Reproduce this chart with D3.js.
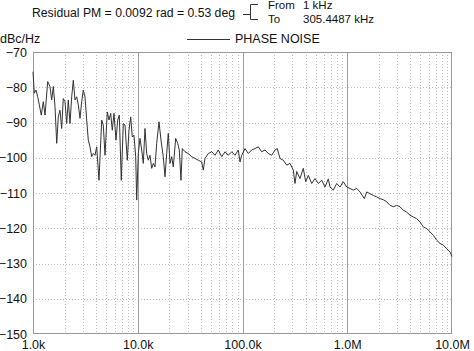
<!DOCTYPE html>
<html><head><meta charset="utf-8">
<script src="https://cdn.jsdelivr.net/npm/d3@7/dist/d3.min.js"></script>
<style>
html,body{margin:0;padding:0;background:#fff;overflow:hidden}
text{font-family:"Liberation Sans",Arial,sans-serif;fill:#111}
</style></head>
<body>
<svg id="c" width="474" height="351"></svg>
<script>
// ---- data ----
const freqHz = [1000,1029,1068,1109,1149,1200,1254,1302,1382,1453,1508,1563,1622,1684,1744,1810,1879,1946,2021,2097,
2173,2255,2341,2425,2517,2613,2707,2810,2916,3021,3136,3255,3371,3500,3633,3763,3907,4056,4266,4527,
4689,4868,5120,5315,5517,5714,5932,6199,6435,6665,6965,7278,7555,7948,8250,8564,8870,9208,9560,9772,
10120,10507,10907,11297,11727,12173,12609,13088,13587,14073,14609,15165,15952,16668,17532,18199,18892,19568,20312,21085,
21839,23022,24056,24918,25866,26616,28256,30379,32740,35200,37850,40780,42240,43850,47160,50820,54630,58740,63310,68080,
73180,78860,84810,91190,94650,98260,105600,113600,122400,131600,141600,152500,164000,176300,190000,204300,214900,228000,245200,264200,
284100,305500,317100,329200,353900,380600,401200,424800,457700,492200,529300,570400,613300,659400,684500,736100,793100,852700,916900,988000,
1062300,1142300,1230900,1323600,1455100,1533900,1649000,1773400,1910600,2054400,2208800,2380000,2559100,2752100,2965200,3188300,3428400,3694200,3972400,4271600,
4602700,4949300,5322100,5734600,6165900,6630500,7144300,7682400,8261100,8901300,9570100,10000000];
const phaseNoise = [-75.6,-81.7,-80.8,-82.7,-85,-87.9,-84.1,-87.9,-78.4,-79.8,-83.6,-79.8,-85.5,-95.9,-88.4,-86.5,-91.7,-83.2,-84.1,-90.3,
-83.6,-90.3,-82.7,-78,-83.6,-82.7,-85,-88.8,-84.1,-80.8,-82.7,-89.3,-95,-96.9,-99.7,-98.8,-99.3,-96.9,-106.4,-89.3,
-90.7,-99.3,-87,-89.3,-87.4,-92.2,-87.4,-95,-89.3,-87.9,-106.4,-90.3,-90.7,-100.7,-92.2,-88.4,-94.1,-93.6,-99.7,-112,
-98.8,-94.5,-97.8,-101.6,-91.7,-98.8,-100.7,-99.3,-103,-101.6,-102.6,-95.9,-89.8,-95,-99.7,-105.4,-98.8,-93.1,-101.6,-99.7,
-102.6,-94.5,-95.9,-97.8,-106.4,-97.4,-98.3,-98.8,-99.7,-100.2,-100.7,-101.2,-103.5,-100.2,-98.8,-98.3,-99.3,-97.8,-99.7,-98.3,
-99.3,-98.3,-99.3,-97.8,-101.2,-99.3,-97.4,-98.8,-97.8,-97.4,-96.9,-98.3,-97.8,-98.8,-99.3,-97.8,-97.4,-100.2,-100.7,-102.1,
-101.6,-103.5,-107.3,-103.9,-105.9,-103,-106.8,-105,-107.3,-105.9,-107.3,-106.4,-108.3,-106,-108.3,-109.2,-107.3,-108.3,-106.8,-108.3,
-108.7,-109.2,-108.7,-109.7,-111.6,-109.7,-110.2,-110.7,-111.1,-111.6,-111.9,-112.5,-113.5,-113.9,-113.5,-113.9,-114.9,-115.4,-116.3,-116.8,
-117.3,-118.2,-119.6,-120.1,-121,-122,-123.4,-124.3,-124.8,-125.8,-126.7,-128];
const xTickValues = [1e3,1e4,1e5,1e6,1e7];
const xTickLabels = ["1.0k","10.0k","100.0k","1.0M","10.0M"];
const yTickValues = [-70,-80,-90,-100,-110,-120,-130,-140,-150];
const headerText = "Residual PM = 0.0092 rad = 0.53 deg";
const rangeLabels = ["From","To"];
const rangeValues = ["1 kHz","305.4487 kHz"];
const yUnit = "dBc/Hz";
const seriesName = "PHASE NOISE";

// ---- drawing ----
const svg = d3.select("#c");
const L = 33, R = 452, T = 52, B = 334;
const x = d3.scaleLog().domain([1e3,1e7]).range([L,R]);
const y = d3.scaleLinear().domain([-150,-70]).range([B,T]);

// minor vertical grid
const minor = [];
for (let d = 1e3; d < 1e7; d *= 10) for (let k = 2; k <= 9; k++) minor.push(d*k);
svg.append("g").selectAll("line").data(minor).join("line")
  .attr("x1", d => Math.round(x(d))+0.5).attr("x2", d => Math.round(x(d))+0.5)
  .attr("y1", T).attr("y2", B)
  .attr("stroke", "#bdbdbd").attr("stroke-width", 1).attr("stroke-dasharray", "1,2");
// horizontal grid
svg.append("g").selectAll("line").data(yTickValues.slice(1,-1)).join("line")
  .attr("x1", L).attr("x2", R)
  .attr("y1", d => Math.round(y(d))+0.5).attr("y2", d => Math.round(y(d))+0.5)
  .attr("stroke", "#bdbdbd").attr("stroke-width", 1).attr("stroke-dasharray", "1,2");
// decade lines
svg.append("g").selectAll("line").data(xTickValues.slice(1,-1)).join("line")
  .attr("x1", d => Math.round(x(d))+0.5).attr("x2", d => Math.round(x(d))+0.5)
  .attr("y1", T).attr("y2", B)
  .attr("stroke", "#a0a0a0").attr("stroke-width", 1);
// frame
svg.append("rect").attr("x", L+0.5).attr("y", T+0.5).attr("width", R-L-1).attr("height", B-T-1)
  .attr("fill", "none").attr("stroke", "#999").attr("stroke-width", 1);

// axes labels
const yAxis = d3.axisLeft(y).tickValues(yTickValues).tickSize(0).tickPadding(6).tickFormat(d3.format("d"));
const gy = svg.append("g").attr("transform", `translate(${L},0)`).call(yAxis);
gy.select(".domain").remove();
gy.selectAll("text").attr("font-size", 12.5).attr("font-family", "Liberation Sans, Arial, sans-serif").attr("fill", "#111");

const xAxis = d3.axisBottom(x).tickValues(xTickValues).tickSize(0).tickPadding(6)
  .tickFormat((d,i) => xTickLabels[i]);
const gx = svg.append("g").attr("transform", `translate(0,${B})`).call(xAxis);
gx.select(".domain").remove();
gx.selectAll("text").attr("font-size", 12.5).attr("font-family", "Liberation Sans, Arial, sans-serif").attr("fill", "#111");

// curve
const pts = freqHz.map((f,i) => [f, phaseNoise[i]]);
svg.append("path").datum(pts)
  .attr("d", d3.line().x(d => x(d[0])).y(d => y(d[1])))
  .attr("fill", "none").attr("stroke", "#333").attr("stroke-width", 1).attr("stroke-linejoin", "round");

// header
svg.append("text").attr("x", 32).attr("y", 16.5).attr("font-size", 12.5)
  .attr("textLength", 203).attr("lengthAdjust", "spacingAndGlyphs").text(headerText);
const br = svg.append("g").attr("stroke", "#333").attr("stroke-width", 1).attr("fill", "none");
br.append("path").attr("d", "M243,14.5H250.5M258,4.5H250.5V19.5H258");
svg.append("text").attr("x", 268).attr("y", 9).attr("font-size", 11.5).text(rangeLabels[0]);
svg.append("text").attr("x", 268).attr("y", 22.5).attr("font-size", 11.5).text(rangeLabels[1]);
svg.append("text").attr("x", 303).attr("y", 9).attr("font-size", 11.5).text(rangeValues[0]);
svg.append("text").attr("x", 303).attr("y", 22.5).attr("font-size", 11.5).text(rangeValues[1]);

// unit + legend
svg.append("text").attr("x", 0).attr("y", 43).attr("font-size", 12.5).text(yUnit);
svg.append("line").attr("x1", 187).attr("x2", 230).attr("y1", 39.5).attr("y2", 39.5)
  .attr("stroke", "#333").attr("stroke-width", 1);
svg.append("text").attr("x", 235).attr("y", 43).attr("font-size", 12.5).text(seriesName);
</script>
</body></html>
